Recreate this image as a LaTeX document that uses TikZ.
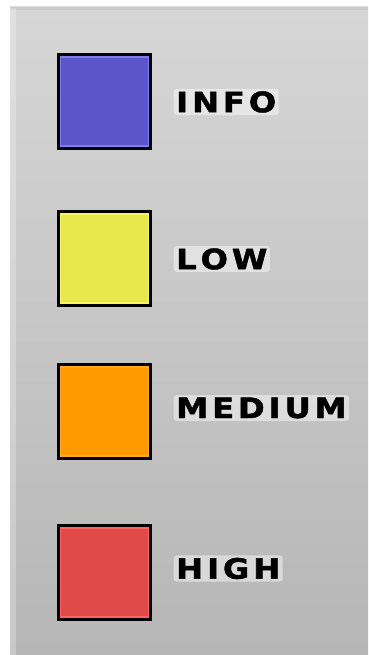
\documentclass[tikz,border=0pt]{standalone}
\usepackage{fontspec}
\newfontfamily\lblfont[FakeBold=1.6]{DejaVu Sans Bold}
\definecolor{bgtop}{HTML}{D6D6D6}
\definecolor{bgbot}{HTML}{B6B6B6}
\definecolor{infoc}{HTML}{5A55C8}
\definecolor{infoe}{HTML}{7F7CF0}
\definecolor{lowc}{HTML}{E8E84C}
\definecolor{lowe}{HTML}{F6F660}
\definecolor{medc}{HTML}{FF9A00}
\definecolor{mede}{HTML}{FFAA20}
\definecolor{highc}{HTML}{E04A48}
\definecolor{highe}{HTML}{FF6262}
\newcommand{\lgap}{\hspace{3.4pt}}
\newcommand{\wide}[1]{\scalebox{1.15}[1]{#1}}
\tikzset{
  swatch/.style={draw=black, line width=4.5pt, minimum width=91pt, minimum height=92pt, inner sep=0pt},
  lbl/.style={anchor=west, inner sep=2.5pt, font=\lblfont\fontsize{28}{28}\selectfont,
    fill=white, fill opacity=0.45, text opacity=1, rounded corners=3pt},
  inner/.style={line width=1.5pt},
}
\begin{document}
\begin{tikzpicture}[x=1pt,y=1pt]
\useasboundingbox (0,0) rectangle (368,655);
\fill[white] (0,0) rectangle (368,655);
\shade[top color=bgtop, bottom color=bgbot] (10,0) rectangle (368,647);
\fill[black!25, opacity=0.5] (10,645) rectangle (368,649);
\fill[white, opacity=0.25] (10,0) rectangle (16,647);
% swatches
\node[swatch, fill=infoc] (info) at (104.5,553.5) {};
\draw[infoe, inner] ([shift={(3.8pt,3.8pt)}]info.south west) rectangle ([shift={(-3.8pt,-3.8pt)}]info.north east);
\node[swatch, fill=lowc] (low) at (104.5,396.5) {};
\draw[lowe, inner] ([shift={(3.8pt,3.8pt)}]low.south west) rectangle ([shift={(-3.8pt,-3.8pt)}]low.north east);
\node[swatch, fill=medc] (med) at (104.5,243.5) {};
\draw[mede, inner] ([shift={(3.8pt,3.8pt)}]med.south west) rectangle ([shift={(-3.8pt,-3.8pt)}]med.north east);
\node[swatch, fill=highc] (high) at (104.5,82.5) {};
\draw[highe, inner] ([shift={(3.8pt,3.8pt)}]high.south west) rectangle ([shift={(-3.8pt,-3.8pt)}]high.north east);
% labels
\node[lbl] (tinfo) at (173.5,553) {\wide{I\lgap N\lgap F\lgap O}};
\node[lbl] (tlow) at (173.5,396) {\wide{L\lgap O\lgap W}};
\node[lbl] (tmed) at (173.5,247) {\wide{M\lgap E\lgap D\lgap I\lgap U\lgap M}};
\node[lbl] (thigh) at (173.5,86.5) {\wide{H\lgap I\lgap G\lgap H}};
\end{tikzpicture}
\end{document}
